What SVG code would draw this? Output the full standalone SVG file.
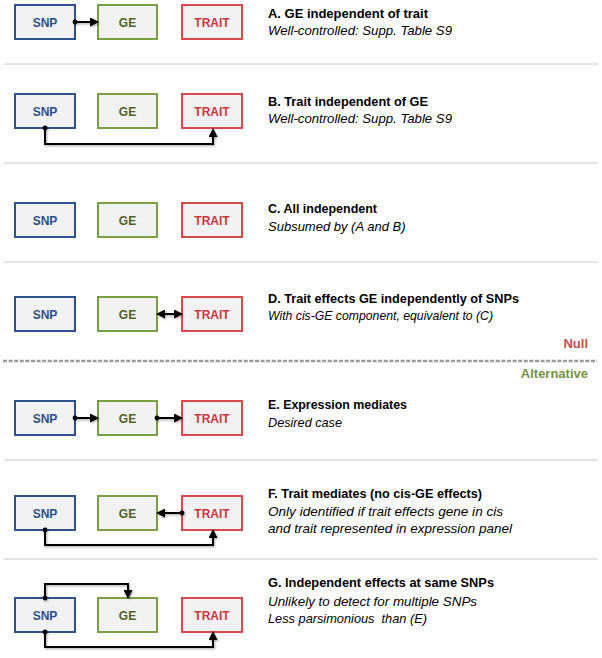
<svg xmlns="http://www.w3.org/2000/svg" width="602" height="658" viewBox="0 0 602 658">
<style>
.box{fill:#f2f2f2;stroke-width:2}
.snp{stroke:#2f528f}.ge{stroke:#77a043}.trait{stroke:#d9484c}
.bl{font-family:"Liberation Sans",Arial,sans-serif;font-weight:bold;font-size:12px;text-anchor:middle}
.tsnp{fill:#2c4f8a}.tge{fill:#4f6228}.ttrait{fill:#c8383c}
.title{font-family:"Liberation Sans",Arial,sans-serif;font-weight:bold;font-size:13px;fill:#000}
.sub{font-family:"Liberation Sans",Arial,sans-serif;font-style:italic;font-size:13px;fill:#000}
.sep{stroke:#c8c8c8;stroke-width:1}
.con{fill:none;stroke:#000;stroke-width:2;marker-end:url(#arr)}
</style>
<defs>
<marker id="arr" markerUnits="userSpaceOnUse" markerWidth="9" markerHeight="9" refX="0" refY="4" orient="auto-start-reverse" viewBox="0 0 8 8"><path d="M0,0 L8,4 L0,8 z" fill="#000"/></marker>
<marker id="dot" markerUnits="userSpaceOnUse" markerWidth="6" markerHeight="6" refX="3" refY="3" viewBox="0 0 6 6"><circle cx="3" cy="3" r="2.4" fill="#000"/></marker>
<filter id="sh" x="-20%" y="-20%" width="140%" height="140%"><feDropShadow dx="1" dy="1.2" stdDeviation="0.9" flood-color="#000" flood-opacity="0.35"/></filter>
</defs>
<rect width="602" height="658" fill="#fff"/>
<g id="separators">
<line class="sep" x1="4" y1="64" x2="598" y2="64"/>
<line class="sep" x1="4" y1="163" x2="598" y2="163"/>
<line class="sep" x1="4" y1="262" x2="598" y2="262"/>
<line x1="3" y1="361" x2="597" y2="361" stroke="#9a9a9a" stroke-width="2.4" stroke-dasharray="4 1.6"/>
<line class="sep" x1="4" y1="460" x2="598" y2="460"/>
<line class="sep" x1="4" y1="559" x2="598" y2="559"/>
</g>
<g id="rowA">
<g id="A-snp"><rect class="box snp" x="15" y="5" width="60" height="34"/><text class="bl tsnp" x="45" y="26.5">SNP</text></g>
<g id="A-ge"><rect class="box ge" x="98" y="5" width="59" height="34"/><text class="bl tge" x="127.5" y="26.5">GE</text></g>
<g id="A-trait"><rect class="box trait" x="182" y="5" width="60" height="34"/><text class="bl ttrait" x="212" y="26.5">TRAIT</text></g>
<text class="title" x="268" y="17.5" textLength="160" lengthAdjust="spacingAndGlyphs">A. GE independent of trait</text>
<text class="sub" x="268" y="34.5" textLength="184" lengthAdjust="spacingAndGlyphs">Well-controlled: Supp. Table S9</text>
</g>
<g id="rowB">
<g id="B-snp"><rect class="box snp" x="15" y="94" width="60" height="34"/><text class="bl tsnp" x="45" y="115.5">SNP</text></g>
<g id="B-ge"><rect class="box ge" x="98" y="94" width="59" height="34"/><text class="bl tge" x="127.5" y="115.5">GE</text></g>
<g id="B-trait"><rect class="box trait" x="182" y="94" width="60" height="34"/><text class="bl ttrait" x="212" y="115.5">TRAIT</text></g>
<text class="title" x="268" y="106" textLength="160" lengthAdjust="spacingAndGlyphs">B. Trait independent of GE</text>
<text class="sub" x="268" y="123" textLength="184" lengthAdjust="spacingAndGlyphs">Well-controlled: Supp. Table S9</text>
</g>
<g id="rowC">
<g id="C-snp"><rect class="box snp" x="15" y="203" width="60" height="34"/><text class="bl tsnp" x="45" y="224.5">SNP</text></g>
<g id="C-ge"><rect class="box ge" x="98" y="203" width="59" height="34"/><text class="bl tge" x="127.5" y="224.5">GE</text></g>
<g id="C-trait"><rect class="box trait" x="182" y="203" width="60" height="34"/><text class="bl ttrait" x="212" y="224.5">TRAIT</text></g>
<text class="title" x="268" y="213" textLength="109" lengthAdjust="spacingAndGlyphs">C. All independent</text>
<text class="sub" x="268" y="230.5">Subsumed by (A and B)</text>
</g>
<g id="rowD">
<g id="D-snp"><rect class="box snp" x="15" y="297" width="60" height="34"/><text class="bl tsnp" x="45" y="318.5">SNP</text></g>
<g id="D-ge"><rect class="box ge" x="98" y="297" width="59" height="34"/><text class="bl tge" x="127.5" y="318.5">GE</text></g>
<g id="D-trait"><rect class="box trait" x="182" y="297" width="60" height="34"/><text class="bl ttrait" x="212" y="318.5">TRAIT</text></g>
<text class="title" x="268" y="303" textLength="251" lengthAdjust="spacingAndGlyphs">D. Trait effects GE independently of SNPs</text>
<text class="sub" x="268" y="319.5" textLength="225" lengthAdjust="spacingAndGlyphs">With cis-GE component, equivalent to (C)</text>
</g>
<text id="null-label" x="588" y="348" text-anchor="end" font-family="Liberation Sans,Arial,sans-serif" font-weight="bold" font-size="13" fill="#c0504d">Null</text>
<text id="alt-label" x="588" y="378" text-anchor="end" font-family="Liberation Sans,Arial,sans-serif" font-weight="bold" font-size="13" fill="#77933c">Alternative</text>
<g id="rowE">
<g id="E-snp"><rect class="box snp" x="15" y="401" width="60" height="34"/><text class="bl tsnp" x="45" y="422.5">SNP</text></g>
<g id="E-ge"><rect class="box ge" x="98" y="401" width="59" height="34"/><text class="bl tge" x="127.5" y="422.5">GE</text></g>
<g id="E-trait"><rect class="box trait" x="182" y="401" width="60" height="34"/><text class="bl ttrait" x="212" y="422.5">TRAIT</text></g>
<text class="title" x="268" y="409" textLength="139" lengthAdjust="spacingAndGlyphs">E. Expression mediates</text>
<text class="sub" x="268" y="426.5" textLength="74" lengthAdjust="spacingAndGlyphs">Desired case</text>
</g>
<g id="rowF">
<g id="F-snp"><rect class="box snp" x="15" y="496" width="60" height="34"/><text class="bl tsnp" x="45" y="517.5">SNP</text></g>
<g id="F-ge"><rect class="box ge" x="98" y="496" width="59" height="34"/><text class="bl tge" x="127.5" y="517.5">GE</text></g>
<g id="F-trait"><rect class="box trait" x="182" y="496" width="60" height="34"/><text class="bl ttrait" x="212" y="517.5">TRAIT</text></g>
<text class="title" x="268" y="498" textLength="214" lengthAdjust="spacingAndGlyphs">F. Trait mediates (no cis-GE effects)</text>
<text class="sub" x="268" y="516" textLength="235" lengthAdjust="spacingAndGlyphs">Only identified if trait effects gene in cis</text>
<text class="sub" x="268" y="533" textLength="244" lengthAdjust="spacingAndGlyphs">and trait represented in expression panel</text>
</g>
<g id="rowG">
<g id="G-snp"><rect class="box snp" x="15" y="598" width="60" height="34"/><text class="bl tsnp" x="45" y="619.5">SNP</text></g>
<g id="G-ge"><rect class="box ge" x="98" y="598" width="59" height="34"/><text class="bl tge" x="127.5" y="619.5">GE</text></g>
<g id="G-trait"><rect class="box trait" x="182" y="598" width="60" height="34"/><text class="bl ttrait" x="212" y="619.5">TRAIT</text></g>
<text class="title" x="268" y="587" textLength="226" lengthAdjust="spacingAndGlyphs">G. Independent effects at same SNPs</text>
<text class="sub" x="268" y="605.5" textLength="209" lengthAdjust="spacingAndGlyphs">Unlikely to detect for multiple SNPs</text>
<text class="sub" x="268" y="622.5" textLength="159" lengthAdjust="spacingAndGlyphs" xml:space="preserve">Less parsimonious  than (E)</text>
</g>
<g id="connectors" filter="url(#sh)">
<path class="con" d="M75,22 H90" marker-start="url(#dot)"/>
<path class="con" d="M45,128 V144 H213 V137" marker-start="url(#dot)"/>
<path class="con" d="M165,314 H174" marker-start="url(#arr)"/>
<path class="con" d="M75,418 H90" marker-start="url(#dot)"/>
<path class="con" d="M157,418 H174" marker-start="url(#dot)"/>
<path class="con" d="M182,513 H165" marker-start="url(#dot)"/>
<path class="con" d="M45,530 V545 H213 V538" marker-start="url(#dot)"/>
<path class="con" d="M45,598 V584 H128 V590" marker-start="url(#dot)"/>
<path class="con" d="M45,632 V647 H213 V640" marker-start="url(#dot)"/>
</g>
</svg>
